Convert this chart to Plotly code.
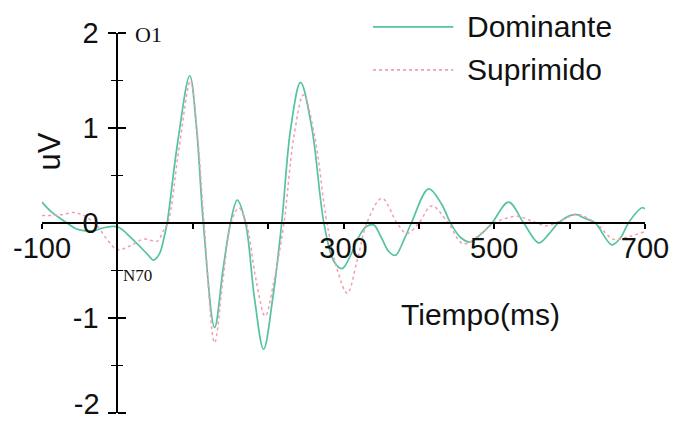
import plotly.graph_objects as go

# ---- data ----
t_dom = [-100, -88, -76, -67, -55, -45, -31, -18, 0, 20, 40, 48, 56, 62, 66, 80, 96, 105, 114, 129,
         140, 150, 159, 170, 182, 194, 206, 218, 230, 243, 258, 274, 287, 298, 310, 320, 330, 340,
         350, 360, 369, 380, 390, 413, 430, 442, 455, 468, 482, 497, 519, 539, 559, 572, 585, 607,
         620, 634, 656, 668, 678, 696, 700]
v_dom = [0.22, 0.12, 0.05, 0.0, -0.06, -0.08, -0.08, -0.05, -0.04, -0.17, -0.33, -0.39, -0.32, -0.15,
         0.0, 0.85, 1.55, 1.0, 0.0, -1.10, -0.5, 0.0, 0.24, 0.0, -0.8, -1.33, -0.8, 0.0, 1.0, 1.48,
         1.0, 0.0, -0.4, -0.48, -0.33, -0.15, -0.04, -0.02, -0.15, -0.3, -0.34, -0.18, 0.0, 0.36,
         0.2, 0.0, -0.15, -0.2, -0.12, 0.0, 0.22, 0.0, -0.21, -0.12, 0.0, 0.09, 0.05, 0.0, -0.23,
         -0.15, 0.0, 0.16, 0.15]

t_sup = [-100, -85, -72, -58, -45, -27, -14, 0, 17, 35, 53, 61, 67, 82, 97, 106, 115, 129, 140,
         151, 161, 171, 184, 196, 208, 221, 234, 247, 262, 278, 292, 305, 318, 331, 351, 371, 384,
         400, 417, 439, 459, 486, 500, 530, 550, 570, 590, 610, 636, 658, 680, 700]
v_sup = [0.08, 0.08, 0.09, 0.11, 0.08, -0.03, -0.17, -0.28, -0.24, -0.17, -0.19, -0.08, 0.0, 0.8,
         1.50, 0.95, 0.0, -1.26, -0.6, 0.0, 0.16, 0.0, -0.6, -0.98, -0.6, 0.0, 0.9, 1.35, 0.9, 0.0,
         -0.5, -0.74, -0.4, 0.0, 0.26, 0.0, -0.11, 0.0, 0.18, 0.0, -0.22, -0.09, 0.0, 0.07, 0.02,
         -0.03, 0.03, 0.09, -0.01, -0.17, -0.14, -0.09]

x_tickvals = [-100, 0, 100, 200, 300, 400, 500, 600, 700]
x_ticktext = ["-100", "", "", "", "300", "", "500", "", "700"]
y_tickvals = [-2, -1, 0, 1, 2]
y_ticktext = ["", "-1", "0", "1", "2"]
y_bottom_val = [-2]
y_bottom_text = ["-2"]
y_minor = [-1.5, -0.5, 0.5, 1.5]
series_names = ["Dominante", "Suprimido"]

GREEN = "#55c3a2"
PINK = "#f0a0a8"
SANS = "Liberation Sans"
SERIF = "Liberation Serif"

fig = go.Figure()
fig.add_trace(go.Scatter(x=t_dom, y=v_dom, mode="lines", name=series_names[0],
                         line=dict(color=GREEN, width=1.7, shape="spline", smoothing=1.0)))
fig.add_trace(go.Scatter(x=t_sup, y=v_sup, mode="lines", name=series_names[1],
                         line=dict(color=PINK, width=1.5, dash="dot", shape="spline", smoothing=1.0)))

# transparent traces carrying the helper axes
fig.add_trace(go.Scatter(x=t_dom, y=v_dom, yaxis="y2", mode="lines", showlegend=False,
                         hoverinfo="skip", line=dict(color="rgba(0,0,0,0)", width=0)))
fig.add_trace(go.Scatter(x=t_dom, y=v_dom, yaxis="y3", mode="lines", showlegend=False,
                         hoverinfo="skip", line=dict(color="rgba(0,0,0,0)", width=0)))

fig.update_layout(
    width=673, height=424,
    margin=dict(l=42, r=28, t=33, b=11, autoexpand=False),
    paper_bgcolor="white", plot_bgcolor="white",
    showlegend=False,
    xaxis=dict(range=[-100, 700], anchor="free", position=0.5, showgrid=False, zeroline=False,
               showline=True, linecolor="black", linewidth=2, automargin=False,
               tickmode="array", tickvals=x_tickvals, ticktext=x_ticktext,
               ticks="outside", ticklen=5, tickwidth=1.5, tickcolor="black",
               ticklabelstandoff=-6, ticklabeloverflow="allow",
               tickfont=dict(family=SANS, size=29, color="#111")),
    yaxis=dict(range=[-2, 2], anchor="free", position=0.125, showgrid=False, zeroline=False,
               showline=True, linecolor="black", linewidth=2, automargin=False,
               tickmode="array", tickvals=y_tickvals, ticktext=y_ticktext,
               ticks="outside", ticklen=8, tickwidth=1.5, tickcolor="black",
               ticklabelstandoff=4, ticklabeloverflow="allow",
               minor=dict(tickvals=y_minor, ticks="outside", ticklen=5,
                          tickwidth=1.2, tickcolor="black"),
               tickfont=dict(family=SANS, size=29, color="#111")),
    yaxis2=dict(range=[-2, 2], overlaying="y", anchor="free", position=0.125, side="right",
                showgrid=False, zeroline=False, showline=False, automargin=False,
                tickmode="array", tickvals=y_tickvals, showticklabels=False,
                ticks="outside", ticklen=8, tickwidth=1.5, tickcolor="black",
                minor=dict(tickvals=y_minor, ticks="outside", ticklen=5,
                           tickwidth=1.2, tickcolor="black")),
    yaxis3=dict(range=[-2, 2], overlaying="y", anchor="free", position=0.125, side="left",
                showgrid=False, zeroline=False, showline=False, automargin=False,
                tickmode="array", tickvals=y_bottom_val, ticktext=y_bottom_text,
                ticks="outside", ticklen=8, tickcolor="rgba(0,0,0,0)",
                ticklabelstandoff=4, ticklabelshift=-9, ticklabeloverflow="allow",
                tickfont=dict(family=SANS, size=29, color="#111")),
)

# manual legend
legend_rows = [(series_names[0], GREEN, "solid", 1.016), (series_names[1], PINK, "dot", 0.903)]
for name, col, dash, yp in legend_rows:
    fig.add_shape(type="line", xref="paper", yref="paper", x0=0.549, x1=0.682, y0=yp, y1=yp,
                  line=dict(color=col, width=1.8, dash=dash))
    fig.add_annotation(text=name, xref="paper", yref="paper", x=0.701, y=yp, xanchor="left",
                       yanchor="middle", showarrow=False,
                       font=dict(family=SANS, size=30, color="#111"))

fig.add_annotation(text="Tiempo(ms)", xref="paper", yref="paper", x=0.728, y=0.258,
                   xanchor="center", yanchor="middle", showarrow=False,
                   font=dict(family=SANS, size=30, color="#111"))
fig.add_annotation(text="uV", xref="paper", yref="paper", x=0.012, y=0.689, textangle=-90,
                   xanchor="center", yanchor="middle", showarrow=False,
                   font=dict(family=SANS, size=31, color="#111"))
fig.add_annotation(text="O1", xref="paper", yref="paper", x=0.151, y=0.995,
                   xanchor="left", yanchor="middle", showarrow=False,
                   font=dict(family=SERIF, size=22, color="#111"))
fig.add_annotation(text="N70", xref="paper", yref="paper", x=0.131, y=0.363,
                   xanchor="left", yanchor="middle", showarrow=False,
                   font=dict(family=SERIF, size=17, color="#111"))

fig.write_html("out.html")
